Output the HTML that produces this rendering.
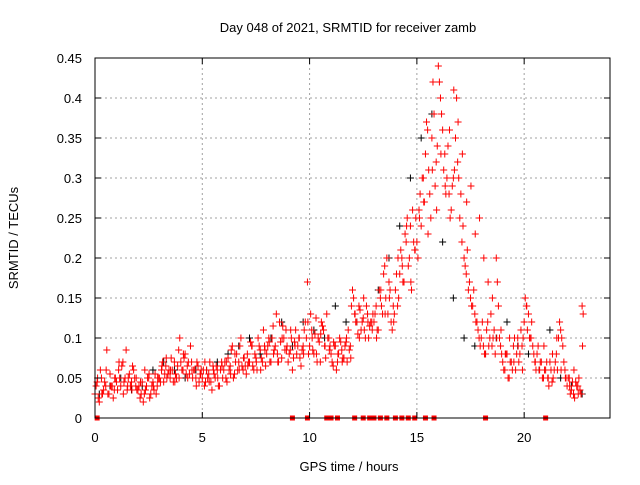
<!DOCTYPE html>
<html><head><meta charset="utf-8"><style>
body{margin:0;background:#fff;width:640px;height:480px;overflow:hidden}
svg text{font-family:"Liberation Sans",sans-serif;font-size:13px;fill:#000}
</style></head><body>
<svg id="c" width="640" height="480">
<text x="348" y="32" text-anchor="middle">Day 048 of 2021, SRMTID for receiver zamb</text>
<text x="0" y="0" transform="translate(18,238) rotate(-90)" text-anchor="middle">SRMTID / TECUs</text>
<text x="349" y="471" text-anchor="middle">GPS time / hours</text>
<g id="grid"></g><g id="marks"></g><g id="axes"></g>
</svg>
<script>
const xTicks=[0,5,10,15,20];
const yTicks=[0,0.05,0.1,0.15,0.2,0.25,0.3,0.35,0.4,0.45];
const yTickLabels=["0","0.05","0.1","0.15","0.2","0.25","0.3","0.35","0.4","0.45"];
const redA=[.03,.045,.02,.05,.035,.04,.03,.055,.04,.035,
.045,.06,.04,.07,.05,.035,.055,.045,.06,.04,
.035,.025,.045,.03,.04,.05,.03,.045,.055,.04,
.05,.06,.045,.065,.055,.05,.06,.07,.05,.085,
.07,.06,.08,.065,.055,.07,.06,.05,.065,.055,
.05,.04,.06,.055,.045,.065,.05,.06,.04,.07,
.06,.05,.075,.065,.09,.055,.08,.07,.1,.06,
.065,.08,.07,.09,.06,.075,.1,.085,.07,.09,
.08,.1,.07,.115,.09,.08,.12,.075,.1,.11,
.07,.085,.06,.095,.08,.1,.065,.09,.12,.17,
.09,.11,.08,.125,.1,.07,.115,.09,.13,.1,
.08,.065,.09,.07,.1,.085,.075,.095,.11,.09,
.16,.13,.12,.14,.11,.125,.1,.13,.115,.12,
.12,.14,.11,.15,.13,.19,.2,.17,.12,.14,
.16,.14,.18,.2,.17,.22,.19,.24,.26,.21,
.22,.26,.24,.3,.33,.36,.28,.35,.38,.32,
.44,.4,.36,.33,.3,.28,.26,.3,.35,.32,
.25,.22,.2,.18,.16,.15,.14,.13,.12,.1,
.1,.09,.08,.12,.1,.09,.11,.2,.14,.09,
.07,.06,.08,.05,.07,.09,.06,.1,.08,.09,
.12,.14,.13,.1,.09,.07,.08,.06,.07,.05,
.06,.05,.07,.045,.06,.08,.1,.11,.09,.06,
.04,.05,.035,.03,.045,.04,.035,.14];
const redB=[.04,.025,.06,.03,.045,.085,.03,.04,.025,.05,
.035,.05,.065,.045,.085,.05,.04,.065,.05,.035,
.04,.03,.02,.035,.05,.025,.04,.035,.03,.05,
.045,.07,.055,.05,.06,.075,.045,.055,.065,.1,
.06,.075,.055,.07,.09,.05,.06,.07,.045,.06,
.06,.045,.05,.07,.035,.055,.065,.04,.06,.05,
.07,.045,.06,.085,.05,.07,.06,.09,.065,.075,
.055,.07,.095,.065,.08,.06,.09,.075,.11,.065,
.09,.07,.1,.085,.13,.07,.095,.115,.085,.09,
.08,.1,.075,.11,.09,.075,.085,.11,.1,.08,
.13,.085,.105,.07,.095,.12,.11,.075,.1,.09,
.07,.09,.06,.08,.095,.075,.09,.07,.085,.14,
.15,.12,.105,.135,.12,.11,.14,.1,.12,.13,
.13,.11,.16,.14,.18,.15,.13,.16,.11,.13,
.18,.15,.21,.17,.23,.25,.2,.16,.22,.25,
.2,.28,.3,.27,.37,.31,.25,.42,.29,.34,
.42,.38,.31,.28,.34,.25,.29,.31,.4,.3,
.28,.24,.19,.21,.17,.14,.16,.12,.11,.09,
.12,.08,.11,.09,.13,.1,.08,.17,.1,.08,
.06,.08,.05,.07,.06,.1,.08,.07,.11,.1,
.15,.11,.1,.12,.08,.06,.09,.07,.05,.06,
.07,.04,.06,.05,.07,.06,.12,.1,.07,.05,
.05,.03,.045,.025,.04,.05,.03,.13];
const redC=[.05,.03,.06,.04,.05,.07,.03,.04,.035,.05,
.045,.06,.055,.04,.05,.065,.075,.06,.045,.05,
.08,.05,.06,.04,.055,.07,.045,.06,.05,.065,
.07,.055,.08,.06,.075,.065,.09,.07,.06,.085,
.095,.08,.07,.1,.085,.11,.09,.1,.08,.12,
.1,.08,.105,.09,.085,.095,.08,.07,.1,.075,
.13,.1,.15,.12,.11,.1,.16,.13,.15,.12,
.2,.19,.24,.17,.21,.25,.27,.23,.31,.26,
.33,.29,.36,.41,.37,.33,.27,.29,.23,.25,
.2,.17,.15,.1,.11,.08,.1,.07,.09,.06,
.14,.1,.07,.06,.09,.05,.08,.1,.06,.05,
.04,.06,.03,.09];
const black=[.03,.04,.05,.035,.04,.06,.07,.06,.05,.06,.06,.07,.08,.09,.1,.08,.1,.12,.09,.12,.11,.1,.14,.12,.12,.13,.16,.2,.24,.3,.35,.38,.22,.15,.1,.09,.08,.1,.12,.09,.08,.06,.11,.05,.04,.03];
const zeroHours=[0.1,9.2,9.9,10.8,11.0,11.3,12.1,12.5,12.8,13.0,13.3,13.6,14.0,14.3,14.6,14.9,15.4,15.8,18.2,21.0];
const L=95,R=610,T=58,B=418;
const sx=h=>L+h/24*(R-L), sy=v=>B-v/0.45*(B-T);
const NS="http://www.w3.org/2000/svg";
function mk(tag,parent,attrs){const e=document.createElementNS(NS,tag);for(const k in attrs)e.setAttribute(k,attrs[k]);parent.appendChild(e);return e;}
const grid=document.getElementById('grid'),marks=document.getElementById('marks'),axes=document.getElementById('axes');
yTicks.forEach((v,i)=>{const y=sy(v);
 if(i>0&&i<yTicks.length-1){const g=mk('line',grid,{x1:L,x2:R,y1:y,y2:y,stroke:'#a0a0a0','stroke-dasharray':'2,3'});
 
 }
 mk('line',axes,{x1:L,x2:L+6,y1:y,y2:y,stroke:'#000'});mk('line',axes,{x1:R,x2:R-6,y1:y,y2:y,stroke:'#000'});
 const t=mk('text',axes,{x:82,y:y+5,'text-anchor':'end'});t.textContent=yTickLabels[i];
 
 });
xTicks.forEach(h=>{const x=sx(h);
 if(h>0){const g=mk('line',grid,{x1:x,x2:x,y1:T,y2:B,stroke:'#a0a0a0','stroke-dasharray':'2,3'});
 
 }
 mk('line',axes,{x1:x,x2:x,y1:B,y2:B-6,stroke:'#000'});mk('line',axes,{x1:x,x2:x,y1:T,y2:T+6,stroke:'#000'});
 const t=mk('text',axes,{x:x,y:442,'text-anchor':'middle'});t.textContent=String(h);
 
 });
const fr=mk('rect',axes,{x:L,y:T,width:R-L,height:B-T,fill:'none',stroke:'#000'});


function plus(x,y,c,name){const p=mk('path',marks,{d:`M${x-3.5},${y}h7M${x},${y-3.5}v7`,stroke:c,'stroke-width':1,fill:'none'});
 
 }
black.forEach((v,i)=>plus(sx(i*0.5+0.2),sy(v),'#000','black-point'));
redA.forEach((v,i)=>plus(sx(i*0.1),sy(v),'#f00','red-point'));
redB.forEach((v,i)=>plus(sx(i*0.1+0.05),sy(v),'#f00','red-point'));
redC.forEach((v,i)=>plus(sx(i*0.2+0.12),sy(v),'#f00','red-point'));
zeroHours.forEach(h=>{const r=mk('rect',marks,{x:sx(h)-2.5,y:B-2.5,width:5,height:5,fill:'#f00'});
 
 });
</script>
</body></html>
